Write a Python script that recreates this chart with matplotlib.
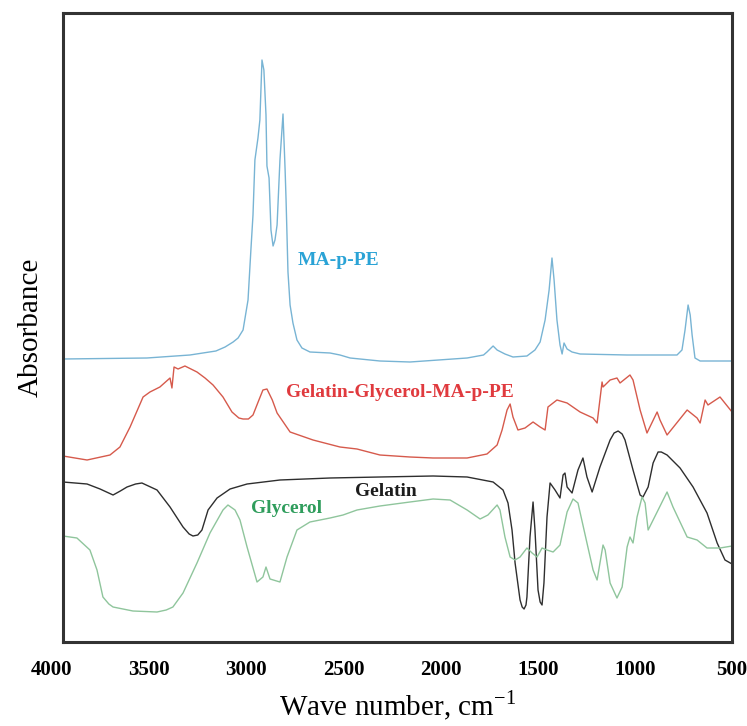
"""FTIR spectra of MA-p-PE, gelatin, glycerol and the blend film (stacked, offset)."""
import matplotlib
matplotlib.use("Agg")
import matplotlib.pyplot as plt
import matplotlib.transforms as mtransforms

# wavenumber (cm-1) / absorbance (offset, arb. units)
mappe_wn = [4000, 3561, 3336, 3200, 3152, 3110, 3084, 3058, 3032, 3017, 3006, 2996,
            2980, 2970, 2959, 2949, 2938, 2933, 2922, 2912, 2901, 2891, 2880, 2865,
            2849, 2838, 2833, 2823, 2812, 2797, 2776, 2750, 2708, 2603, 2551, 2498,
            2342, 2185, 1886, 1800, 1782, 1750, 1729, 1688, 1646, 1573, 1531, 1504,
            1478, 1457, 1442, 1431, 1416, 1400, 1389, 1379, 1363, 1337, 1295, 1049,
            788, 762, 746, 730, 719, 709, 694, 667, 500]
mappe_abs = [2.83, 2.84, 2.87, 2.91, 2.95, 3.00, 3.04, 3.12, 3.42, 3.92, 4.27, 4.82,
             5.04, 5.22, 5.82, 5.72, 5.27, 4.76, 4.64, 4.12, 3.96, 4.02, 4.17, 4.82,
             5.28, 4.72, 4.42, 3.70, 3.37, 3.19, 3.02, 2.94, 2.90, 2.89, 2.87, 2.84,
             2.81, 2.80, 2.84, 2.87, 2.90, 2.96, 2.92, 2.88, 2.85, 2.86, 2.92, 3.00,
             3.22, 3.52, 3.84, 3.62, 3.22, 2.97, 2.88, 2.99, 2.93, 2.90, 2.88, 2.87,
             2.87, 2.92, 3.12, 3.37, 3.27, 3.07, 2.84, 2.81, 2.81]

blend_wn = [4000, 3874, 3754, 3702, 3649, 3581, 3545, 3493, 3440, 3430, 3419, 3398,
            3362, 3299, 3257, 3215, 3163, 3116, 3080, 3058, 3030, 3006, 2975, 2954,
            2933, 2905, 2880, 2812, 2692, 2551, 2462, 2342, 2185, 2064, 1886, 1782,
            1729, 1703, 1677, 1661, 1646, 1620, 1583, 1541, 1504, 1478, 1463, 1416,
            1363, 1295, 1227, 1206, 1180, 1175, 1138, 1102, 1086, 1034, 1018, 981,
            945, 892, 877, 840, 735, 683, 667, 641, 626, 563, 500]
blend_abs = [1.86, 1.82, 1.87, 1.95, 2.15, 2.45, 2.50, 2.55, 2.64, 2.54, 2.75, 2.73,
             2.76, 2.70, 2.64, 2.57, 2.45, 2.30, 2.24, 2.23, 2.23, 2.27, 2.42, 2.52,
             2.53, 2.42, 2.29, 2.10, 2.02, 1.95, 1.93, 1.87, 1.85, 1.84, 1.84, 1.88,
             1.97, 2.12, 2.32, 2.38, 2.25, 2.12, 2.14, 2.20, 2.15, 2.12, 2.35, 2.42,
             2.39, 2.30, 2.24, 2.19, 2.60, 2.55, 2.62, 2.64, 2.59, 2.67, 2.62, 2.32,
             2.09, 2.30, 2.22, 2.07, 2.32, 2.24, 2.19, 2.42, 2.37, 2.45, 2.30]

gelatin_wn = [4000, 3874, 3806, 3738, 3700, 3665, 3620, 3587, 3508, 3440, 3372, 3340,
              3320, 3295, 3273, 3241, 3194, 3126, 3037, 2865, 2603, 2342, 2064, 1886,
              1750, 1698, 1672, 1651, 1635, 1609, 1598, 1588, 1578, 1573, 1557, 1541,
              1531, 1515, 1504, 1494, 1484, 1468, 1452, 1426, 1400, 1384, 1374, 1363,
              1337, 1306, 1280, 1259, 1232, 1191, 1138, 1117, 1096, 1075, 1060, 1018,
              981, 966, 939, 913, 887, 870, 840, 772, 704, 631, 578, 537,
              500]
gelatin_abs = [1.60, 1.58, 1.53, 1.47, 1.51, 1.55, 1.58, 1.59, 1.52, 1.35, 1.15, 1.08,
               1.06, 1.07, 1.12, 1.32, 1.44, 1.53, 1.58, 1.62, 1.64, 1.65, 1.66, 1.65,
               1.60, 1.52, 1.39, 1.12, 0.79, 0.42, 0.35, 0.33, 0.37, 0.45, 1.05, 1.40,
               1.12, 0.52, 0.40, 0.37, 0.59, 1.25, 1.59, 1.52, 1.44, 1.67, 1.69, 1.55,
               1.49, 1.72, 1.84, 1.65, 1.50, 1.75, 2.02, 2.09, 2.11, 2.08, 2.02, 1.72,
               1.47, 1.45, 1.55, 1.79, 1.90, 1.90, 1.87, 1.74, 1.55, 1.29, 0.99, 0.82,
               0.78]

glycerol_wn = [4000, 3927, 3859, 3822, 3791, 3760, 3738, 3634, 3508, 3460, 3425, 3372,
               3299, 3231, 3163, 3137, 3100, 3074, 3037, 2985, 2954, 2938, 2917, 2865,
               2828, 2776, 2708, 2603, 2535, 2462, 2342, 2185, 2064, 1975, 1886, 1818,
               1777, 1729, 1714, 1688, 1661, 1635, 1609, 1573, 1546, 1520, 1494, 1468,
               1436, 1400, 1363, 1332, 1306, 1259, 1227, 1206, 1191, 1175, 1164, 1138,
               1102, 1075, 1049, 1034, 1018, 997, 971, 955, 939, 892, 840, 809,
               735, 683, 631, 563, 500]
glycerol_abs = [1.06, 1.04, 0.92, 0.72, 0.45, 0.38, 0.35, 0.31, 0.30, 0.32, 0.35, 0.49,
                0.79, 1.09, 1.32, 1.37, 1.32, 1.22, 0.95, 0.60, 0.65, 0.75, 0.63, 0.60,
                0.85, 1.12, 1.20, 1.24, 1.27, 1.32, 1.36, 1.40, 1.43, 1.42, 1.32, 1.23,
                1.27, 1.37, 1.32, 1.05, 0.85, 0.82, 0.85, 0.94, 0.89, 0.85, 0.94, 0.92,
                0.90, 0.97, 1.30, 1.43, 1.39, 0.99, 0.72, 0.62, 0.79, 0.97, 0.92, 0.59,
                0.44, 0.55, 0.95, 1.05, 0.99, 1.25, 1.45, 1.39, 1.12, 1.30, 1.50, 1.35,
                1.05, 1.02, 0.94, 0.94, 0.96]

x_ticks = [4000, 3500, 3000, 2500, 2000, 1500, 1000, 500]

SERIF = ["Liberation Serif", "DejaVu Serif"]
plt.rcParams["font.family"] = SERIF

fig = plt.figure(figsize=(7.47, 7.26), dpi=100)
ax = fig.add_axes([0.0843, 0.1157, 0.8957, 0.8664])

lw = 1.0
ax.plot(mappe_wn, mappe_abs, color="#78b4d4", lw=lw)
ax.plot(blend_wn, blend_abs, color="#d65a4c", lw=lw)
ax.plot(gelatin_wn, gelatin_abs, color="#2e2e2e", lw=lw)
ax.plot(glycerol_wn, glycerol_abs, color="#8fc59c", lw=lw)

# curve labels
lab = dict(fontsize=14, fontweight="bold", ha="center", va="center")
ax.text(2561, 3.81, "MA-p-PE", color="#2aa3d6", **lab)
ax.text(2237, 2.49, "Gelatin-Glycerol-MA-p-PE", color="#e03a3e", **lab)
ax.text(2310, 1.51, "Gelatin", color="#1c1c1c", **lab)
ax.text(2833, 1.34, "Glycerol", color="#2f9d5c", **lab)

ax.set_xlim(4000, 500)
ax.set_ylim(0, 6.29)
ax.set_xticks(x_ticks)
ax.set_xticklabels([str(t) for t in x_ticks], fontsize=15, fontweight="bold")
ax.set_yticks([])
ax.tick_params(axis="x", length=0, pad=13)

# the original's tick labels sit a bit wider apart than the frame
n = len(x_ticks) - 1
for i, lbl in enumerate(ax.get_xticklabels()):
    dx = -11 * (n - i) / n / fig.dpi
    lbl.set_transform(lbl.get_transform()
                      + mtransforms.ScaledTranslation(dx, 0, fig.dpi_scale_trans))

for s in ax.spines.values():
    s.set_linewidth(2.2)
    s.set_color("#333333")

ax.set_xlabel("Wave number, cm$^{\\mathregular{-1}}$", fontsize=21, labelpad=6)
ax.set_ylabel("Absorbance", fontsize=21, labelpad=14)

fig.savefig("out.png", dpi=100)
plt.close(fig)
